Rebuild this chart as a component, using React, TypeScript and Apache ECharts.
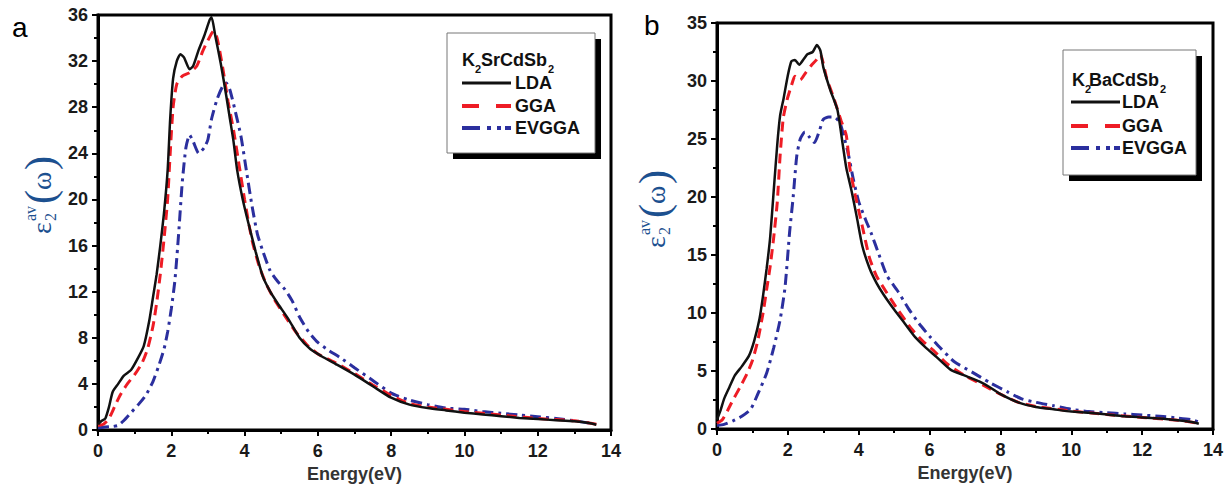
import React, { useEffect, useRef } from "react";
import * as echarts from "echarts";

// ---- Panel a: K2SrCdSb2 ----
const LDA_A: number[][] = [
  [0, 0.5], [0.1, 0.8], [0.2, 1.0], [0.3, 2.0], [0.4, 3.3], [0.55, 4.0], [0.7, 4.7], [0.9, 5.2],
  [1.1, 6.3], [1.25, 7.3], [1.4, 9.5], [1.5, 11.5], [1.6, 13.5], [1.7, 16], [1.8, 18.8], [1.9, 22.5],
  [1.97, 27], [2.05, 30.5], [2.15, 32], [2.25, 32.6], [2.35, 32.3], [2.5, 31.3], [2.6, 31.6], [2.75, 33],
  [2.9, 34.2], [3.05, 35.6], [3.1, 35.8], [3.2, 34.2], [3.35, 31.8], [3.5, 29], [3.6, 27], [3.7, 25],
  [3.8, 22.5], [3.95, 20], [4.1, 18], [4.3, 15.5], [4.5, 13.3], [4.7, 12], [4.9, 11], [5.2, 9.6],
  [5.5, 8.0], [5.8, 7.0], [6.1, 6.4], [6.5, 5.7], [7.0, 4.8], [7.5, 3.8], [8.0, 2.8], [8.5, 2.2],
  [9, 1.9], [9.5, 1.7], [10, 1.5], [10.5, 1.35], [11, 1.2], [11.5, 1.05], [12, 0.95], [12.5, 0.85],
  [13, 0.75], [13.4, 0.6], [13.6, 0.45],
];
const GGA_A: number[][] = [
  [0, 0.4], [0.15, 0.5], [0.3, 1.0], [0.45, 2.0], [0.6, 3.0], [0.8, 4.0], [1.0, 4.8], [1.2, 5.8],
  [1.35, 7.0], [1.5, 9], [1.6, 11], [1.7, 13.5], [1.8, 16.5], [1.9, 20], [1.97, 24], [2.05, 28],
  [2.15, 30], [2.3, 30.7], [2.5, 31], [2.7, 31.6], [2.85, 32.8], [3.0, 33.8], [3.15, 34.6], [3.25, 34],
  [3.4, 31.5], [3.55, 28.5], [3.7, 26], [3.85, 23], [4.0, 20], [4.2, 16.5], [4.4, 14.2], [4.6, 12.6],
  [4.8, 11.4], [5.1, 9.9], [5.4, 8.5], [5.7, 7.4], [6.0, 6.6], [6.5, 5.8], [7.0, 4.9], [7.5, 3.9],
  [8.0, 3.0], [8.5, 2.3], [9, 2.0], [10, 1.6], [11, 1.3], [12, 1.0], [13, 0.8], [13.6, 0.5],
];
const EVGGA_A: number[][] = [
  [0, 0.2], [0.2, 0.25], [0.4, 0.3], [0.55, 0.4], [0.7, 0.8], [0.9, 1.5], [1.1, 2.2], [1.3, 3.0],
  [1.5, 4.2], [1.65, 5.5], [1.8, 7], [1.9, 8.5], [2.0, 10.5], [2.1, 13], [2.2, 17], [2.3, 21.5],
  [2.4, 24.5], [2.5, 25.6], [2.6, 25.0], [2.75, 24.0], [2.9, 24.5], [3.0, 25.2], [3.1, 27], [3.25, 28.7],
  [3.4, 29.8], [3.5, 30.1], [3.6, 29.5], [3.75, 27.6], [3.9, 25.5], [4.05, 22.5], [4.2, 19.5], [4.35, 17],
  [4.5, 15.5], [4.7, 13.8], [4.9, 12.9], [5.1, 12.2], [5.3, 11.2], [5.5, 9.8], [5.75, 8.5], [6.0, 7.6],
  [6.3, 6.9], [6.6, 6.3], [7.0, 5.4], [7.5, 4.3], [8.0, 3.2], [8.5, 2.6], [9, 2.2], [9.5, 1.9],
  [10, 1.8], [10.5, 1.6], [11, 1.45], [11.5, 1.3], [12, 1.15], [12.5, 1.0], [13, 0.8], [13.5, 0.55],
];

// ---- Panel b: K2BaCdSb2 ----
const LDA_B: number[][] = [
  [0, 0.8], [0.1, 1.6], [0.2, 2.6], [0.35, 3.6], [0.5, 4.6], [0.7, 5.4], [0.9, 6.3], [1.05, 7.6],
  [1.2, 9.5], [1.3, 11.5], [1.4, 13.8], [1.5, 16.5], [1.6, 20.5], [1.7, 24.5], [1.78, 27], [1.88, 28.5],
  [2.0, 30.5], [2.1, 31.7], [2.2, 31.8], [2.32, 31.4], [2.45, 31.9], [2.55, 32.3], [2.7, 32.5], [2.82, 33.1],
  [2.92, 32.6], [3.0, 31.2], [3.2, 29.2], [3.4, 27.5], [3.55, 24.5], [3.65, 22.5], [3.8, 20.5], [3.95, 18.2],
  [4.1, 15.8], [4.3, 13.9], [4.5, 12.6], [4.7, 11.6], [5.0, 10.3], [5.3, 9.1], [5.6, 7.9], [5.9, 7.0],
  [6.2, 6.2], [6.6, 5.1], [7.0, 4.6], [7.4, 4.1], [7.7, 3.6], [8.0, 3.0], [8.5, 2.3], [9, 1.9],
  [9.5, 1.7], [10, 1.5], [10.5, 1.4], [11, 1.25], [11.5, 1.1], [12, 1.0], [12.5, 0.9], [13, 0.75],
  [13.4, 0.6], [13.6, 0.45],
];
const GGA_B: number[][] = [
  [0, 0.5], [0.15, 0.8], [0.3, 1.6], [0.45, 2.5], [0.65, 3.6], [0.85, 4.8], [1.0, 5.9], [1.15, 7.6],
  [1.3, 10], [1.4, 12], [1.5, 14], [1.6, 16.5], [1.7, 19.5], [1.78, 23.5], [1.87, 26.8], [1.98, 28.4],
  [2.1, 29.6], [2.2, 30.4], [2.35, 30.1], [2.5, 30.7], [2.65, 31.3], [2.8, 31.8], [2.92, 32.3], [3.0, 31.5],
  [3.1, 30.2], [3.3, 28.5], [3.5, 26.6], [3.65, 25.3], [3.75, 22.5], [3.9, 20.2], [4.1, 17.5], [4.3, 14.8],
  [4.5, 13.2], [4.8, 11.7], [5.1, 10.3], [5.5, 8.6], [5.8, 7.6], [6.1, 6.8], [6.5, 5.6], [7.0, 4.6],
  [7.5, 3.8], [8.0, 3.0], [8.5, 2.3], [9, 1.95], [10, 1.55], [11, 1.25], [12, 1.0], [13, 0.75], [13.6, 0.5],
];
const EVGGA_B: number[][] = [
  [0, 0.3], [0.2, 0.4], [0.45, 0.7], [0.7, 1.1], [0.95, 1.7], [1.15, 3.0], [1.4, 4.8], [1.6, 7.0],
  [1.78, 9.4], [1.92, 12.2], [2.05, 17], [2.15, 20], [2.25, 23.5], [2.35, 25], [2.48, 25.6], [2.6, 25.2],
  [2.75, 24.7], [2.9, 25.8], [3.0, 26.7], [3.15, 26.9], [3.3, 26.9], [3.47, 26.4], [3.6, 25], [3.7, 23.8],
  [3.85, 21.5], [4.0, 19.6], [4.2, 18], [4.35, 16.9], [4.6, 14.8], [4.8, 13.2], [5.1, 11.9], [5.4, 10.4],
  [5.7, 9.1], [6.0, 8.0], [6.3, 7.0], [6.7, 5.8], [7.2, 4.9], [7.7, 4.0], [8.2, 3.2], [8.6, 2.6],
  [9.0, 2.3], [9.5, 2.0], [10, 1.7], [10.5, 1.5], [11, 1.4], [11.5, 1.3], [12, 1.2], [12.5, 1.1],
  [13, 0.95], [13.4, 0.8], [13.6, 0.6],
];

const SERIES_NAMES = ["LDA", "GGA", "EVGGA"];
const TITLE_A = ["K", "2", "SrCdSb", "2"];
const TITLE_B = ["K", "2", "BaCdSb", "2"];
const X_NAME = "Energy(eV)";

const BLACK = "#111111";
const RED = "#ee1c25";
const BLUE = "#2b2f9e";
const LABEL_BLUE = "#1c508f";
const SANS = "'Liberation Sans', Arial, Helvetica, sans-serif";
const SERIF = "'Liberation Serif', 'DejaVu Serif', serif";

function makeYLabel(x: number, y: number): any {
  const t = (text: string, lx: number, ly: number, font: string) => ({
    type: "text",
    x: lx,
    y: ly,
    style: { text, font, fill: LABEL_BLUE, textVerticalAlign: "middle", textAlign: "left" },
  });
  return {
    type: "group",
    x,
    y,
    rotation: Math.PI / 2,
    children: [
      t("ε", 0, 1, `28px ${SERIF}`),
      t("av", 13, -10, `16px ${SERIF}`),
      t("2", 13, 10, `16px ${SERIF}`),
      t("(", 30, 0, `42px ${SERIF}`),
      t("ω", 44, 1, `28px ${SERIF}`),
      t(")", 64, 0, `42px ${SERIF}`),
    ],
  };
}

function makeLegend(
  bx: number, by: number, bw: number, bh: number,
  title: string[], tx: number, ty: number, subX: number, restX: number, sub2X: number,
  rowYs: number[], lineX1: number, lineX2: number, textX: number
): any[] {
  const els: any[] = [];
  els.push({ type: "rect", shape: { x: bx + 6, y: by + 6, width: bw, height: bh }, style: { fill: "#000" }, z: 100 });
  els.push({ type: "rect", shape: { x: bx, y: by, width: bw, height: bh }, style: { fill: "#fff", stroke: "#777", lineWidth: 1 }, z: 101 });
  const tfont = `bold 18px ${SANS}`;
  const sfont = `bold 11px ${SANS}`;
  els.push({ type: "text", x: tx, y: ty, style: { text: title[0], font: tfont, fill: "#111", textVerticalAlign: "middle" }, z: 102 });
  els.push({ type: "text", x: subX, y: ty + 9, style: { text: title[1], font: sfont, fill: "#111", textVerticalAlign: "middle" }, z: 102 });
  els.push({ type: "text", x: restX, y: ty, style: { text: title[2], font: tfont, fill: "#111", textVerticalAlign: "middle" }, z: 102 });
  els.push({ type: "text", x: sub2X, y: ty + 9, style: { text: title[3], font: sfont, fill: "#111", textVerticalAlign: "middle" }, z: 102 });
  const styles = [
    { stroke: BLACK, lineWidth: 3 },
    { stroke: RED, lineWidth: 4, lineDash: [17, 17] },
    { stroke: BLUE, lineWidth: 4, lineDash: [18, 7, 4, 6, 4, 4] },
  ];
  rowYs.forEach((ry, i) => {
    els.push({ type: "line", shape: { x1: lineX1, y1: ry, x2: lineX2, y2: ry }, style: styles[i], z: 102 });
    els.push({ type: "text", x: textX, y: ry, style: { text: SERIES_NAMES[i], font: tfont, fill: "#111", textVerticalAlign: "middle" }, z: 102 });
  });
  return els;
}

function axisPair(gridIndex: number, yMax: number, yInterval: number): { x: any; y: any } {
  const common = {
    gridIndex,
    axisLine: { show: true, onZero: false, lineStyle: { color: "#000", width: 3 } },
    axisTick: { show: true, inside: false, length: 6, lineStyle: { color: "#000", width: 2 } },
    minorTick: { show: true, splitNumber: 2, length: 4, lineStyle: { color: "#000", width: 2 } },
    splitLine: { show: false },
  };
  const label = { fontFamily: SANS, fontWeight: "bold", fontSize: 18, color: "#1a1a1a" };
  return {
    x: {
      ...common,
      type: "value",
      min: 0,
      max: 14,
      interval: 2,
      name: X_NAME,
      nameLocation: "middle",
      nameGap: 35,
      nameTextStyle: { fontFamily: SANS, fontWeight: "bold", fontSize: 18, color: "#333" },
      axisLabel: { ...label, margin: 12 },
    },
    y: {
      ...common,
      type: "value",
      min: 0,
      max: yMax,
      interval: yInterval,
      axisLabel: { ...label, margin: 10 },
    },
  };
}

function lineSeries(name: string, data: number[][], idx: number, kind: number): any {
  const styles = [
    { color: BLACK, width: 2.5, type: "solid" },
    { color: RED, width: 3, type: [10, 6] },
    { color: BLUE, width: 3, type: [11, 5, 3, 5] },
  ];
  return {
    type: "line",
    name,
    xAxisIndex: idx,
    yAxisIndex: idx,
    data,
    showSymbol: false,
    smooth: 0.2,
    lineStyle: styles[kind],
    z: 10 - kind,
  };
}

export default function App() {
  const ref = useRef<HTMLDivElement>(null);
  useEffect(() => {
    if (!ref.current) return;
    const chart = echarts.init(ref.current, undefined, { renderer: "svg" });
    const a = axisPair(0, 36, 4);
    const b = axisPair(1, 35, 5);
    const option: any = {
      animation: false,
      backgroundColor: "#fff",
      grid: [
        { left: 98, right: 621, top: 15, bottom: 59, show: true, borderColor: "#000", borderWidth: 3, backgroundColor: "transparent" },
        { left: 717, right: 19, top: 23, bottom: 60, show: true, borderColor: "#000", borderWidth: 3, backgroundColor: "transparent" },
      ],
      xAxis: [a.x, b.x],
      yAxis: [a.y, b.y],
      series: [
        lineSeries(SERIES_NAMES[0], LDA_A, 0, 0),
        lineSeries(SERIES_NAMES[1], GGA_A, 0, 1),
        lineSeries(SERIES_NAMES[2], EVGGA_A, 0, 2),
        lineSeries(SERIES_NAMES[0], LDA_B, 1, 0),
        lineSeries(SERIES_NAMES[1], GGA_B, 1, 1),
        lineSeries(SERIES_NAMES[2], EVGGA_B, 1, 2),
      ],
      graphic: [
        { type: "text", x: 12, y: 27, style: { text: "a", font: `28px ${SANS}`, fill: "#000", textVerticalAlign: "middle" } },
        { type: "text", x: 644, y: 25, style: { text: "b", font: `28px ${SANS}`, fill: "#000", textVerticalAlign: "middle" } },
        makeYLabel(40, 234),
        makeYLabel(654, 248),
        ...makeLegend(447, 33, 148, 120, TITLE_A, 462, 60, 475, 481, 548, [83, 106, 128], 462, 511, 515),
        ...makeLegend(1063, 50, 133, 125, TITLE_B, 1072, 80, 1085, 1089, 1160, [102, 126, 148], 1071, 1120, 1122),
      ],
    };
    chart.setOption(option);
    return () => chart.dispose();
  }, []);
  return <div ref={ref} style={{ width: 1232, height: 489, position: "absolute", left: 0, top: 0 }} />;
}
